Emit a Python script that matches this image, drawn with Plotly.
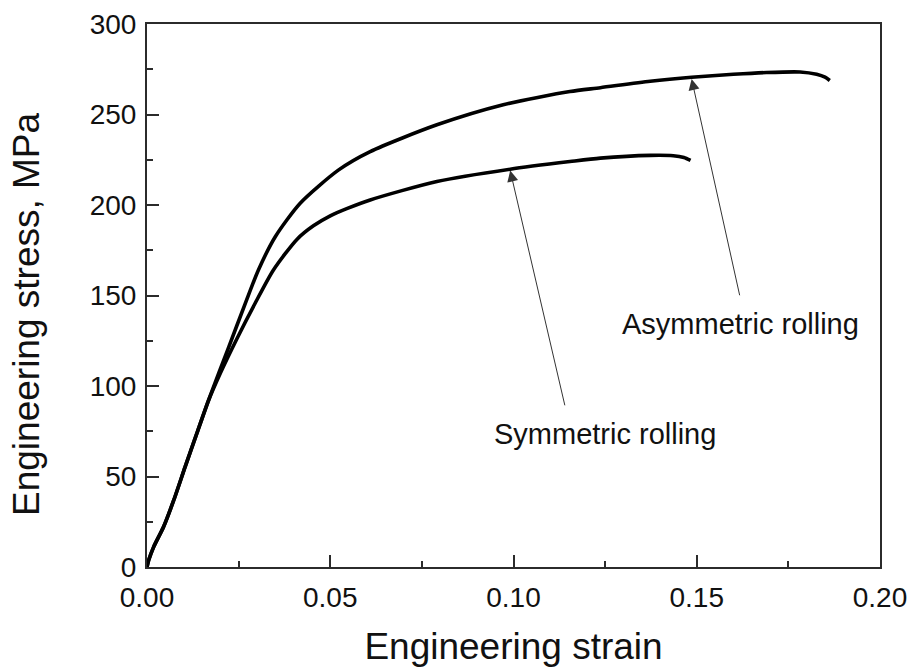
import plotly.graph_objects as go

# Engineering stress-strain curves for the two rolling routes
asym_strain = [0.0, 0.00045, 0.0018, 0.0045, 0.0073, 0.0104, 0.0136, 0.0168,
               0.0223, 0.0268, 0.0304, 0.0350, 0.0418, 0.0523, 0.0609, 0.0791,
               0.0972, 0.1154, 0.1237, 0.1373, 0.1486, 0.1600, 0.1690, 0.1782,
               0.1827, 0.1850, 0.1863]
asym_stress = [0.0, 3.7, 11.0, 22.1, 36.9, 55.3, 73.8, 92.2,
               121.5, 145.5, 164.1, 182.5, 201.0, 219.4, 229.5, 244.3,
               255.4, 262.7, 264.8, 268.4, 270.6, 272.2, 273.2, 273.5,
               272.2, 270.6, 268.8]

sym_strain = [0.0, 0.00045, 0.0018, 0.0045, 0.0073, 0.0104, 0.0136, 0.0168,
              0.0200, 0.0245, 0.0295, 0.0345, 0.0409, 0.0454, 0.0500, 0.0545,
              0.0609, 0.0791, 0.0991, 0.1154, 0.1237, 0.1373, 0.1436, 0.1465,
              0.1483]
sym_stress = [0.0, 3.7, 11.0, 22.1, 36.9, 55.3, 73.8, 92.0,
              107.0, 126.0, 145.7, 164.1, 181.0, 188.5, 194.0, 198.0,
              202.8, 213.0, 219.8, 224.0, 225.9, 227.4, 227.2, 226.2,
              224.6]

x_ticks = [0.0, 0.05, 0.10, 0.15, 0.20]
y_ticks = [0, 50, 100, 150, 200, 250, 300]

# label text, arrow head (strain, stress), arrow tail (strain, stress), text centre
labels = ["Symmetric rolling", "Asymmetric rolling"]
head_pts = [(0.0991, 219.0), (0.1486, 269.6)]
tail_pts = [(0.1141, 88.5), (0.1618, 149.3)]
text_pts = [(0.1249, 73.5), (0.1618, 134.5)]

FONT = "Liberation Sans, Arial, Helvetica, sans-serif"
AXIS_COLOR = "#2b2b2b"
TEXT_COLOR = "#111111"

fig = go.Figure()
for xs, ys in [(asym_strain, asym_stress), (sym_strain, sym_stress)]:
    fig.add_trace(go.Scatter(
        x=xs, y=ys, mode="lines",
        line=dict(color="#000000", width=3.6, shape="spline", smoothing=0.7),
        showlegend=False, hoverinfo="skip",
    ))

for (hx, hy), (tx, ty) in zip(head_pts, tail_pts):
    fig.add_annotation(
        x=hx, y=hy, ax=tx, ay=ty, xref="x", yref="y", axref="x", ayref="y",
        text="", showarrow=True, arrowhead=2, arrowsize=2.2, arrowwidth=1,
        arrowcolor="#333333", standoff=0, startstandoff=0,
    )
for label, (lx, ly) in zip(labels, text_pts):
    fig.add_annotation(
        x=lx, y=ly, xref="x", yref="y", text=label, showarrow=False,
        font=dict(family=FONT, size=29, color=TEXT_COLOR),
        xanchor="center", yanchor="middle",
    )

# vertical axis title, placed as a rotated paper-anchored label
fig.add_annotation(
    x=-0.1637, y=0.466, xref="paper", yref="paper",
    text="Engineering stress, MPa", textangle=-90, showarrow=False,
    font=dict(family=FONT, size=37, color=TEXT_COLOR),
    xanchor="center", yanchor="middle",
)

axis_common = dict(
    showgrid=False, zeroline=False, showline=True, linecolor=AXIS_COLOR,
    linewidth=2, mirror=True, ticks="inside", ticklen=12, tickwidth=2,
    tickcolor=AXIS_COLOR, tickfont=dict(family=FONT, size=28, color=TEXT_COLOR),
)

fig.update_xaxes(
    range=[0, 0.20], tickvals=x_ticks, tickformat=".2f", ticklabelstandoff=4,
    minor=dict(ticks="inside", ticklen=6, tickwidth=2, tickcolor=AXIS_COLOR, dtick=0.025, tick0=0),
    title=dict(text="Engineering strain", font=dict(family=FONT, size=37, color=TEXT_COLOR), standoff=22),
    **axis_common,
)
fig.update_yaxes(
    range=[0, 300], tickvals=y_ticks, ticklabelstandoff=3,
    minor=dict(ticks="inside", ticklen=6, tickwidth=2, tickcolor=AXIS_COLOR, dtick=25, tick0=0),
    **axis_common,
)

fig.update_layout(
    width=912, height=668,
    margin=dict(l=147, r=32, t=24, b=101, autoexpand=False),
    paper_bgcolor="white", plot_bgcolor="white",
)

fig.write_html("out.html")
